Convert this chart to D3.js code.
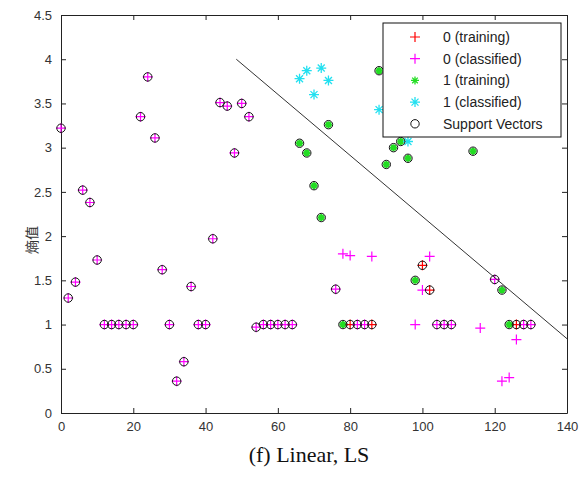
<!DOCTYPE html>
<html>
<head>
<meta charset="utf-8">
<script src="https://d3js.org/d3.v7.min.js"></script>
<style>
  body { margin: 0; background: #fff; }
  svg { display: block; }
  .tick text { font-family: "Liberation Sans", Arial, sans-serif; font-size: 13px; fill: #333; }
</style>
</head>
<body>
<div id="chart-area"></div>
<script>
/*
*    svm linear LS plot
*/

// class 0 training points (red +)
var class0Train = [[80, 1], [86, 1], [100, 1.67], [102, 1.39], [126, 1]];

// class 0 classified points (magenta +)
var class0Classified = [
    [0, 3.22], [2, 1.3], [4, 1.48], [6, 2.52], [8, 2.38], [10, 1.73],
    [12, 1], [14, 1], [16, 1], [18, 1], [20, 1],
    [22, 3.35], [24, 3.8], [26, 3.11], [28, 1.62], [30, 1], [32, 0.36], [34, 0.58],
    [36, 1.43], [38, 1], [40, 1], [42, 1.97], [44, 3.51], [46, 3.47], [48, 2.94],
    [50, 3.5], [52, 3.35], [54, 0.97], [56, 1], [58, 1], [60, 1], [62, 1], [64, 1],
    [76, 1.4], [82, 1], [84, 1], [104, 1], [106, 1], [108, 1], [120, 1.51],
    [128, 1], [130, 1],
    [78, 1.8], [80, 1.78], [86, 1.77], [102, 1.77], [100, 1.39], [98, 1],
    [116, 0.96], [126, 0.83], [122, 0.36], [124, 0.4]
];

// class 1 training points (green *)
var class1Train = [
    [78, 1], [66, 3.05], [68, 2.94], [70, 2.57], [72, 2.21], [74, 3.26],
    [88, 3.87], [90, 2.81], [92, 3.0], [94, 3.07], [96, 2.88], [114, 2.96],
    [98, 1.5], [122, 1.39], [124, 1]
];

// class 1 classified points (cyan *)
var class1Classified = [[66, 3.78], [68, 3.87], [70, 3.6], [72, 3.9], [74, 3.76], [88, 3.43], [96, 3.07]];

// support vectors (black circles)
var supportVectors = class0Train.concat(class1Train).concat(class0Classified.slice(0, 42));

// separating line
var boundary = [[48.5, 4.0], [140, 0.84]];

var xTicks = [0, 20, 40, 60, 80, 100, 120, 140];
var yTicks = [0, 0.5, 1, 1.5, 2, 2.5, 3, 3.5, 4, 4.5];

var legendLabels = ["0 (training)", "0 (classified)", "1 (training)", "1 (classified)", "Support Vectors"];

var margin = {top: 15, right: 12, bottom: 64, left: 61};
var width = 506;
var height = 398;

var svg = d3.select("#chart-area")
    .append("svg")
    .attr("width", 579)
    .attr("height", 477);

var g = svg.append("g")
    .attr("transform", "translate(" + margin.left + ", " + margin.top + ")");

var x = d3.scaleLinear().domain([0, 140]).range([0, width]);
var y = d3.scaleLinear().domain([0, 4.5]).range([height, 0]);

// axes, matlab style ticks inside on all sides
var bottomAxis = d3.axisBottom(x).tickValues(xTicks).tickSizeInner(-5).tickSizeOuter(0).tickPadding(9);
var leftAxis = d3.axisLeft(y).tickValues(yTicks).tickSizeInner(-5).tickSizeOuter(0).tickPadding(9)
    .tickFormat(function(d) { return d3.format("")(d); });
var topAxis = d3.axisTop(x).tickValues(xTicks).tickSizeInner(-5).tickSizeOuter(0).tickFormat("");
var rightAxis = d3.axisRight(y).tickValues(yTicks).tickSizeInner(-5).tickSizeOuter(0).tickFormat("");

g.append("g").attr("transform", "translate(0, " + height + ")").call(bottomAxis);
g.append("g").call(leftAxis);
g.append("g").call(topAxis);
g.append("g").attr("transform", "translate(" + width + ", 0)").call(rightAxis);

g.selectAll(".domain").attr("stroke", "#222");
g.selectAll(".tick line").attr("stroke", "#222");

// y axis label
g.append("text")
    .attr("x", -(height / 2) - 26)
    .attr("y", -24)
    .attr("transform", "rotate(-90)")
    .attr("text-anchor", "middle")
    .attr("font-family", "'Noto Sans CJK SC', sans-serif")
    .attr("font-size", "14px")
    .attr("fill", "#333")
    .text("熵值");

// marker helpers
function plus(sel, color) {
    sel.append("path")
        .attr("d", "M-5,0H5M0,-5V5")
        .attr("stroke", color)
        .attr("stroke-width", 1.2)
        .attr("fill", "none");
}

function star(sel, color, r, sw) {
    var d = "M" + (-r) + ",0H" + r + "M0," + (-r) + "V" + r;
    var k = r * 0.7;
    d += "M" + (-k) + "," + (-k) + "L" + k + "," + k + "M" + (-k) + "," + k + "L" + k + "," + (-k);
    sel.append("path")
        .attr("d", d)
        .attr("stroke", color)
        .attr("stroke-width", sw)
        .attr("fill", "none");
}

function place(data) {
    return g.append("g").selectAll("g").data(data).enter()
        .append("g")
        .attr("transform", function(d) { return "translate(" + x(d[0]) + "," + y(d[1]) + ")"; });
}

place(class0Train).call(plus, "#ff0000");
place(class0Classified).call(plus, "#ff00ff");
place(class1Train).call(star, "#22dd22", 3.5, 2);
place(class1Classified).call(star, "#22e0f0", 5, 1.3);

g.append("g").selectAll("circle").data(supportVectors).enter()
    .append("circle")
    .attr("cx", function(d) { return x(d[0]); })
    .attr("cy", function(d) { return y(d[1]); })
    .attr("r", 4.2)
    .attr("fill", "none")
    .attr("stroke", "#111")
    .attr("stroke-width", 1);

var line = d3.line()
    .x(function(d) { return x(d[0]); })
    .y(function(d) { return y(d[1]); });

g.append("path")
    .datum(boundary)
    .attr("d", line)
    .attr("fill", "none")
    .attr("stroke", "#333")
    .attr("stroke-width", 1);

// legend
var legend = svg.append("g").attr("transform", "translate(383, 23)");

legend.append("rect")
    .attr("width", 178)
    .attr("height", 114)
    .attr("fill", "#fff")
    .attr("stroke", "#111")
    .attr("stroke-width", 1);

var rows = legend.selectAll(".row").data(legendLabels).enter()
    .append("g")
    .attr("class", "row")
    .attr("transform", function(d, i) { return "translate(32, " + (14 + i * 21.7) + ")"; });

rows.append("text")
    .attr("x", 28)
    .attr("y", 5)
    .attr("font-family", "'Liberation Sans', Arial, sans-serif")
    .attr("font-size", "14px")
    .attr("fill", "#222")
    .text(function(d) { return d; });

rows.filter(function(d, i) { return i === 0; }).call(plus, "#ff0000");
rows.filter(function(d, i) { return i === 1; }).call(plus, "#ff00ff");
rows.filter(function(d, i) { return i === 2; }).call(star, "#22dd22", 4, 1.3);
rows.filter(function(d, i) { return i === 3; }).call(star, "#22e0f0", 5, 1.3);
rows.filter(function(d, i) { return i === 4; })
    .append("circle")
    .attr("r", 4.2)
    .attr("fill", "none")
    .attr("stroke", "#111");

// caption
svg.append("text")
    .attr("x", 309)
    .attr("y", 462)
    .attr("text-anchor", "middle")
    .attr("font-family", "'Liberation Serif', 'Times New Roman', serif")
    .attr("font-size", "22px")
    .attr("fill", "#111")
    .text("(f) Linear, LS");
</script>
</body>
</html>
